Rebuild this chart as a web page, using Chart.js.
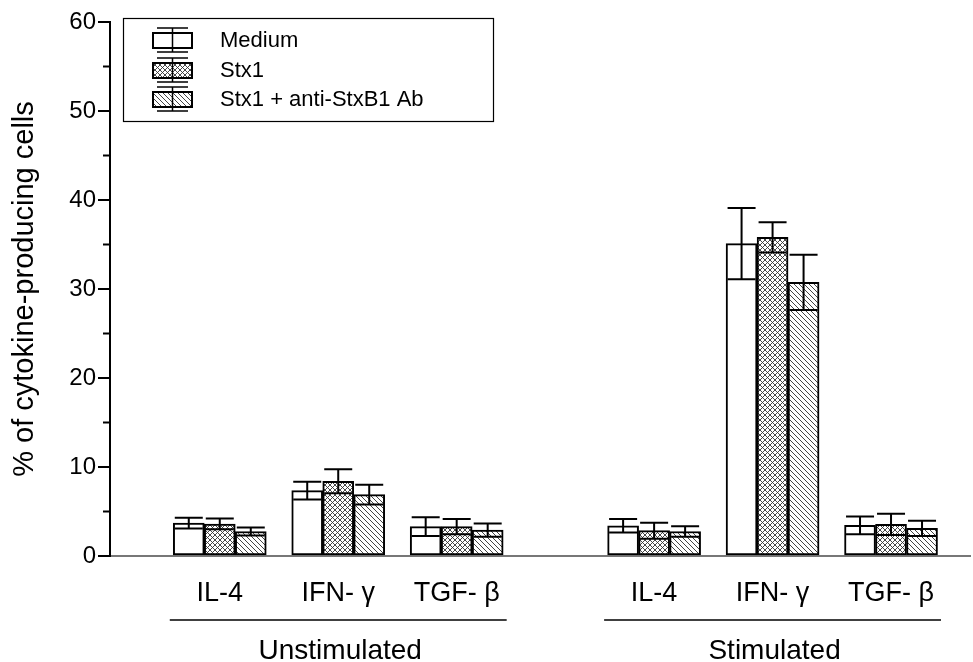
<!DOCTYPE html>
<html>
<head>
<meta charset="utf-8">
<script src="https://cdn.jsdelivr.net/npm/chart.js@4/dist/chart.umd.min.js"></script>
<style>
  body { margin: 0; background: #fff; }
  #wrap { width: 973px; height: 662px; }
</style>
</head>
<body>
<div id="wrap"><canvas id="cytokinechart"></canvas></div>
<script>
// group positions on the x axis (in thirds of a group step), labels, series
const groupPos = [0, 3, 6, 11, 14, 17];
const cytokines = ['IL-4', 'IFN- γ', 'TGF- β', 'IL-4', 'IFN- γ', 'TGF- β'];
const conditions = ['Unstimulated', 'Stimulated'];
const seriesNames = ['Medium', 'Stx1', 'Stx1 + anti-StxB1 Ab'];

const mediumMean = [3.7, 7.35, 3.3, 3.4, 35.1, 3.45];
const mediumErr = [0.6, 1.0, 1.05, 0.75, 4.0, 1.0];
const stx1Mean = [3.6, 8.4, 3.3, 2.85, 35.8, 3.55];
const stx1Err = [0.6, 1.35, 0.85, 0.9, 1.7, 1.2];
const antiMean = [2.75, 6.9, 2.9, 2.75, 30.75, 3.1];
const antiErr = [0.45, 1.1, 0.75, 0.6, 3.1, 0.85];

const yTitle = '% of cytokine-producing cells';

const FONT = "'Liberation Sans', Arial, sans-serif";

function makePattern(cross) {
    const s = 5;
    const c = document.createElement('canvas');
    c.width = s; c.height = s;
    const g = c.getContext('2d');
    g.fillStyle = '#fff';
    g.fillRect(0, 0, s, s);
    g.strokeStyle = cross ? '#333' : '#444';
    g.lineWidth = cross ? 0.9 : 1;
    for (let k = -s; k <= s; k += s) {
        g.beginPath();
        g.moveTo(k, 0); g.lineTo(k + s, s);
        g.stroke();
        if (cross) {
            g.beginPath();
            g.moveTo(k, s); g.lineTo(k + s, 0);
            g.stroke();
        }
    }
    return g.createPattern(c, 'repeat');
}

const ctx = document.getElementById('cytokinechart').getContext('2d');
const crossFill = makePattern(true);
const hatchFill = makePattern(false);
const fills = ['#fff', crossFill, hatchFill];
const errs = [mediumErr, stx1Err, antiErr];
const means = [mediumMean, stx1Mean, antiMean];

const errorBars = {
    id: 'errorBars',
    afterDatasetsDraw(chart) {
        const c = chart.ctx;
        const y = chart.scales.y;
        c.save();
        c.strokeStyle = '#000';
        c.lineWidth = 2;
        chart.data.datasets.forEach((ds, di) => {
            chart.getDatasetMeta(di).data.forEach((bar, i) => {
                const m = means[di][i], e = errs[di][i];
                const top = y.getPixelForValue(m + e);
                const bot = y.getPixelForValue(m - e);
                c.beginPath();
                c.moveTo(bar.x, top); c.lineTo(bar.x, bot);
                c.moveTo(bar.x - 14, top); c.lineTo(bar.x + 14, top);
                c.moveTo(bar.x - 14, bot); c.lineTo(bar.x + 14, bot);
                c.stroke();
            });
        });
        c.restore();
    }
};

const decorations = {
    id: 'decorations',
    afterDraw(chart) {
        const c = chart.ctx;
        const x = chart.scales.x;
        const y = chart.scales.y;
        c.save();
        // minor ticks
        c.strokeStyle = '#000';
        c.lineWidth = 2;
        for (let v = 5; v < 60; v += 10) {
            const py = y.getPixelForValue(v);
            c.beginPath();
            c.moveTo(chart.chartArea.left - 7, py);
            c.lineTo(chart.chartArea.left, py);
            c.stroke();
        }
        // y title
        c.fillStyle = '#000';
        c.font = '29px ' + FONT;
        c.textAlign = 'center';
        c.textBaseline = 'middle';
        c.save();
        c.translate(25, 289);
        c.rotate(-Math.PI / 2);
        c.fillText(yTitle, 0, 0);
        c.restore();
        // cytokine labels
        c.font = '27px ' + FONT;
        groupPos.forEach((p, i) => {
            c.fillText(cytokines[i], x.getPixelForValue(p), 594);
        });
        // underlines + condition labels
        c.lineWidth = 1.5;
        c.font = '28px ' + FONT;
        conditions.forEach((name, k) => {
            const a = x.getPixelForValue(groupPos[k * 3]);
            const b = x.getPixelForValue(groupPos[k * 3 + 2]);
            const mid = (a + b) / 2;
            const half = (b - a) / 2 + 50;
            c.beginPath();
            c.moveTo(mid - half, 620); c.lineTo(mid + half, 620);
            c.stroke();
            c.fillText(name, mid + 2, 651);
        });
        // legend
        c.lineWidth = 1.2;
        c.strokeRect(123.5, 18.5, 370, 103);
        c.font = '22px ' + FONT;
        c.textAlign = 'left';
        [40, 70, 99].forEach((ry, i) => {
            c.fillStyle = fills[i];
            c.fillRect(153, ry - 7, 39, 15);
            c.lineWidth = 2;
            c.strokeRect(153, ry - 7, 39, 15);
            c.lineWidth = 1.5;
            c.beginPath();
            c.moveTo(172.5, ry - 12); c.lineTo(172.5, ry + 12);
            c.moveTo(157, ry - 12); c.lineTo(188, ry - 12);
            c.moveTo(157, ry + 12); c.lineTo(188, ry + 12);
            c.stroke();
            c.fillStyle = '#000';
            c.fillText(seriesNames[i], 220, ry + 1);
        });
        c.restore();
    }
};

new Chart(ctx, {
    type: 'bar',
    data: {
        datasets: seriesNames.map((name, di) => ({
            label: name,
            data: groupPos.map((p, i) => ({ x: p, y: means[di][i] })),
            backgroundColor: fills[di],
            borderColor: '#000',
            borderWidth: 2,
            borderSkipped: false,
            barThickness: 31,
        }))
    },
    options: {
        responsive: true,
        maintainAspectRatio: false,
        animation: false,
        events: [],
        layout: { padding: { top: 22, right: 3, left: 0, bottom: 0 } },
        plugins: { legend: { display: false }, tooltip: { enabled: false } },
        scales: {
            x: {
                type: 'linear',
                min: -2.78,
                max: 19,
                offset: false,
                grid: { display: false },
                ticks: { display: false },
                border: { display: true, color: '#777', width: 2 },
                afterFit(scale) { scale.height = 106; },
            },
            y: {
                min: 0,
                max: 60,
                ticks: {
                    stepSize: 5,
                    padding: 2,
                    color: '#000',
                    font: { family: FONT, size: 24 },
                    callback: (v) => (v % 10 === 0 ? v : ''),
                },
                grid: {
                    drawOnChartArea: false,
                    drawTicks: true,
                    tickLength: 12,
                    lineWidth: 2,
                    tickColor: (c) => (c.tick && c.tick.value % 10 === 0 ? '#000' : 'rgba(0,0,0,0)'),
                },
                border: { display: true, color: '#000', width: 2 },
                afterFit(scale) { scale.width = 110; },
            },
        },
    },
    plugins: [errorBars, decorations],
});
</script>
</body>
</html>
